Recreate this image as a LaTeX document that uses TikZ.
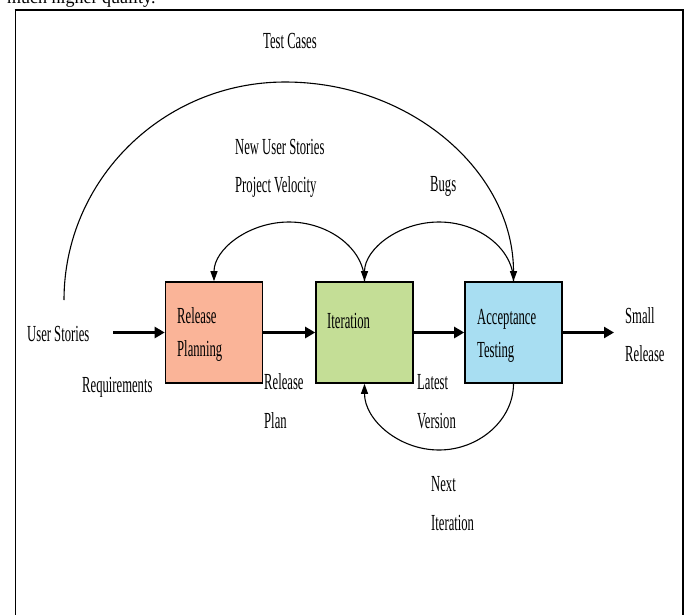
\documentclass[tikz,border=0pt]{standalone}
\usepackage{fontspec}
\setmainfont{Liberation Serif}
\newfontfamily\lblfont{Liberation Serif}[FakeStretch=0.55]
\usetikzlibrary{arrows.meta}
\definecolor{rpfill}{RGB}{250,180,152}
\definecolor{itfill}{RGB}{196,222,150}
\definecolor{atfill}{RGB}{168,222,242}
\begin{document}
\begin{tikzpicture}[x=1pt,y=-1pt,
  lbl/.style={font=\lblfont\fontsize{23}{26}\selectfont, inner sep=0pt, anchor=base west},
  stage/.style={draw=black, line width=1.6pt, minimum width=97pt, minimum height=101pt, inner sep=0pt},
  flow/.style={line width=2.4pt, -{Triangle[length=10pt,width=11pt]}},
  loopc/.style={line width=1.1pt, -{Triangle[length=10pt,width=7pt]}}]
\clip (0,0) rectangle (689,614);
\fill[white] (0,0) rectangle (689,614);
% top cut-off text
\node[anchor=base west, font=\fontsize{18}{20}\selectfont, inner sep=0pt] (toptext) at (7,3) {much higher quality.};
% frame
\draw[line width=1pt] (15,620) -- (15,10);
\draw[line width=1.5pt] (683,620) -- (683,10);
\draw[line width=2.5pt] (14.5,10) -- (683.75,10);
% boxes
\node[stage, fill=rpfill] (rp) at (214,332.5) {};
\node[stage, fill=itfill] (it) at (364.5,332.5) {};
\node[stage, fill=atfill] (at) at (513.5,332.5) {};
% box texts
\node[lbl] (rpt1) at (177,323) {Release};
\node[lbl] (rpt2) at (177,356) {Planning};
\node[lbl] (itt) at (327,328) {Iteration};
\node[lbl] (att1) at (477,324) {Acceptance};
\node[lbl] (att2) at (477,357) {Testing};
% straight flow
\coordinate (usin) at (113,332.5);
\coordinate (srout) at (614,332.5);
\draw[flow] (usin) -- (rp.west);
\draw[flow] (rp.east) -- (it.west);
\draw[flow] (it.east) -- (at.west);
\draw[flow] (at.east) -- (srout);
% loops
\coordinate (tcs) at (64,300);
\draw[loopc] (tcs) .. controls (64,180) and (163,82) .. (285,82) .. controls (411,82) and (513.5,172) .. (at.north);
\draw[loopc] (it.north) .. controls (364.5,249) and (329,222) .. (289,222) .. controls (249,222) and (214,249) .. (rp.north);
\draw[loopc] (at.north) .. controls (513.5,249) and (479,222) .. (439,222) .. controls (399,222) and (364.5,249) .. (it.north);
\draw[loopc] (at.south) .. controls (513.5,420) and (479,450) .. (439,450) .. controls (399,450) and (364.5,420) .. (it.south);
% labels
\node[lbl] (tc) at (263,48) {Test Cases};
\node[lbl] (nus) at (235,154) {New User Stories};
\node[lbl] (pv) at (235,192) {Project Velocity};
\node[lbl] (bugs) at (430,191) {Bugs};
\node[lbl] (us) at (27,341) {User Stories};
\node[lbl] (req) at (82,392) {Requirements};
\node[lbl] (rel1) at (264,389) {Release};
\node[lbl] (rel2) at (264,428) {Plan};
\node[lbl] (lv1) at (417,389) {Latest};
\node[lbl] (lv2) at (417,428) {Version};
\node[lbl] (ni1) at (431,491) {Next};
\node[lbl] (ni2) at (431,530) {Iteration};
\node[lbl] (sr1) at (625,323) {Small};
\node[lbl] (sr2) at (625,361) {Release};
\end{tikzpicture}
\end{document}
